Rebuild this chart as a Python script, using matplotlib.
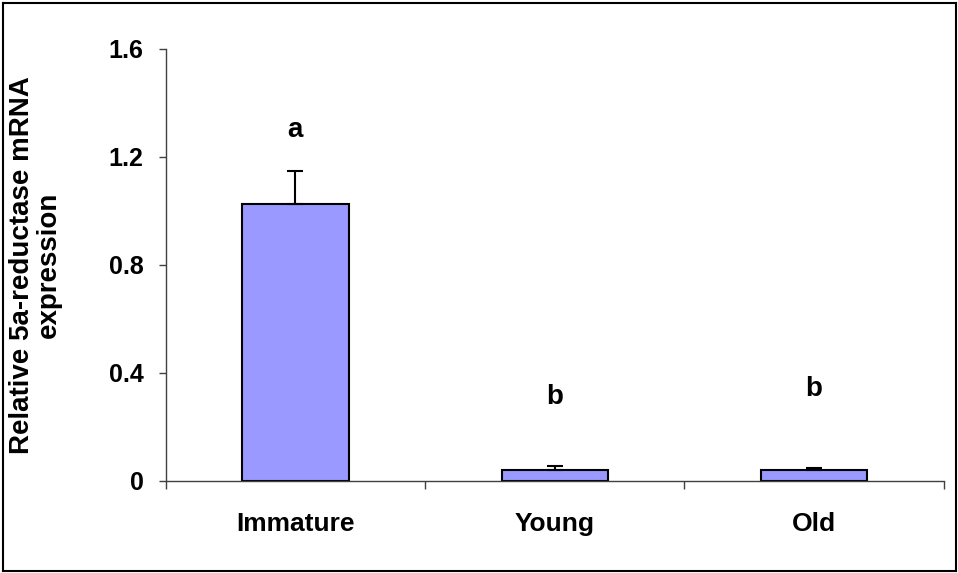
import matplotlib
matplotlib.use("Agg")
import matplotlib.pyplot as plt
from matplotlib.lines import Line2D

categories = ["Immature", "Young", "Old"]
values = [1.026, 0.040, 0.040]
errors = [0.121, 0.014, 0.007]
letters = ["a", "b", "b"]
letter_y = [1.30, 0.31, 0.34]
yticks = [0, 0.4, 0.8, 1.2, 1.6]
ytick_labels = ["0", "0.4", "0.8", "1.2", "1.6"]

plt.rcParams['font.family'] = ['Liberation Sans', 'DejaVu Sans']
plt.rcParams['font.weight'] = 'bold'

fig = plt.figure(figsize=(9.58, 5.73), dpi=100)
ax = fig.add_axes([0.173, 0.1606, 0.812, 0.754])

x = list(range(len(categories)))
ax.bar(x, values, width=0.41, color="#9999FF", edgecolor="black", linewidth=1.5, zorder=2)
ax.errorbar(x, values, yerr=[[0]*len(errors), errors], fmt="none", ecolor="black",
            elinewidth=1.5, capsize=5.5, capthick=1.5, zorder=3)

for xi, lt, ly in zip(x, letters, letter_y):
    ax.text(xi, ly, lt, ha="center", va="center", fontsize=20, fontweight="bold")

ax.set_xlim(-0.5, 2.5)
ax.set_ylim(0, 1.6)
ax.set_yticks(yticks)
ax.set_yticklabels(ytick_labels, fontsize=18, fontweight="bold")
ax.set_xticks(x)
ax.set_xticklabels(categories, fontsize=19, fontweight="bold")
ax.set_xticks([-0.5, 0.5, 1.5, 2.5], minor=True)
ax.tick_params(axis="x", which="major", length=0, pad=22)
ax.tick_params(axis="x", which="minor", length=6, width=1, color="#404040", direction="out")
ax.tick_params(axis="y", which="major", length=5, width=1, color="#404040", pad=11, direction="out")

for s in ["top", "right"]:
    ax.spines[s].set_visible(False)
for s in ["left", "bottom"]:
    ax.spines[s].set_color("#404040")
    ax.spines[s].set_linewidth(1)

ax.set_ylabel("Relative 5a-reductase mRNA\nexpression", fontsize=20, fontweight="bold",
              linespacing=1.05)
ax.yaxis.set_label_coords(-0.133, 0.5)

# outer border
bx0, bx1 = 3 / 958, 956 / 958
by0, by1 = 1 - 571 / 573, 1 - 3 / 573
for xs, ys in [([bx0, bx1], [by0, by0]), ([bx0, bx1], [by1, by1]),
               ([bx0, bx0], [by0, by1]), ([bx1, bx1], [by0, by1])]:
    fig.add_artist(Line2D(xs, ys, color="black", linewidth=1.5, transform=fig.transFigure))

fig.savefig("out.png", dpi=100)
